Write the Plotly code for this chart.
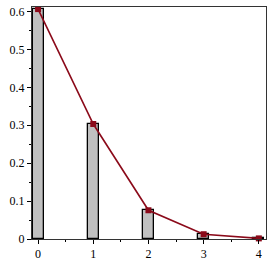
import plotly.graph_objects as go

ks = [0, 1, 2, 3, 4]
probs = [0.6065, 0.3033, 0.0758, 0.0126, 0.0016]
yticks = [0, 0.1, 0.2, 0.3, 0.4, 0.5, 0.6]
ytick_labels = ["0", "0.1", "0.2", "0.3", "0.4", "0.5", "0.6"]

fig = go.Figure()
fig.add_trace(go.Bar(x=ks, y=probs, width=0.2,
                     marker=dict(color="#c0c0c0", line=dict(color="black", width=1.3)),
                     showlegend=False))
fig.add_trace(go.Scatter(x=ks, y=probs, mode="lines+markers",
                         line=dict(color="#8b0a1a", width=1.6),
                         marker=dict(symbol="square", size=6, color="#8b0a1a",
                                     line=dict(width=0)),
                         showlegend=False, cliponaxis=False))
fig.update_layout(
    width=270, height=270,
    margin=dict(l=32, r=4, t=7, b=31, autoexpand=False),
    plot_bgcolor="white", paper_bgcolor="white",
    font=dict(family="Times New Roman", size=12, color="black"),
    xaxis=dict(range=[-0.11, 4.13], tickvals=ks, ticktext=[str(k) for k in ks],
               ticks="outside", ticklen=4, tickcolor="black",
               minor=dict(tickvals=[0.5, 1.5, 2.5, 3.5], ticks="outside", ticklen=2, tickcolor="black"),
               showline=True, linecolor="#333333", linewidth=1, mirror=True,
               showgrid=False, zeroline=False, automargin=False),
    yaxis=dict(range=[0, 0.612], tickvals=yticks, ticktext=ytick_labels,
               ticks="outside", ticklen=4, tickcolor="black",
               minor=dict(tickvals=[0.05, 0.15, 0.25, 0.35, 0.45, 0.55], ticks="outside", ticklen=2, tickcolor="black"),
               showline=True, linecolor="#333333", linewidth=1, mirror=True,
               showgrid=False, zeroline=False, automargin=False),
    bargap=0,
)
fig.write_html("out.html", config={"displayModeBar": False},
               post_script="document.body.style.margin='0';document.body.style.padding='0';document.body.style.overflow='hidden';")
